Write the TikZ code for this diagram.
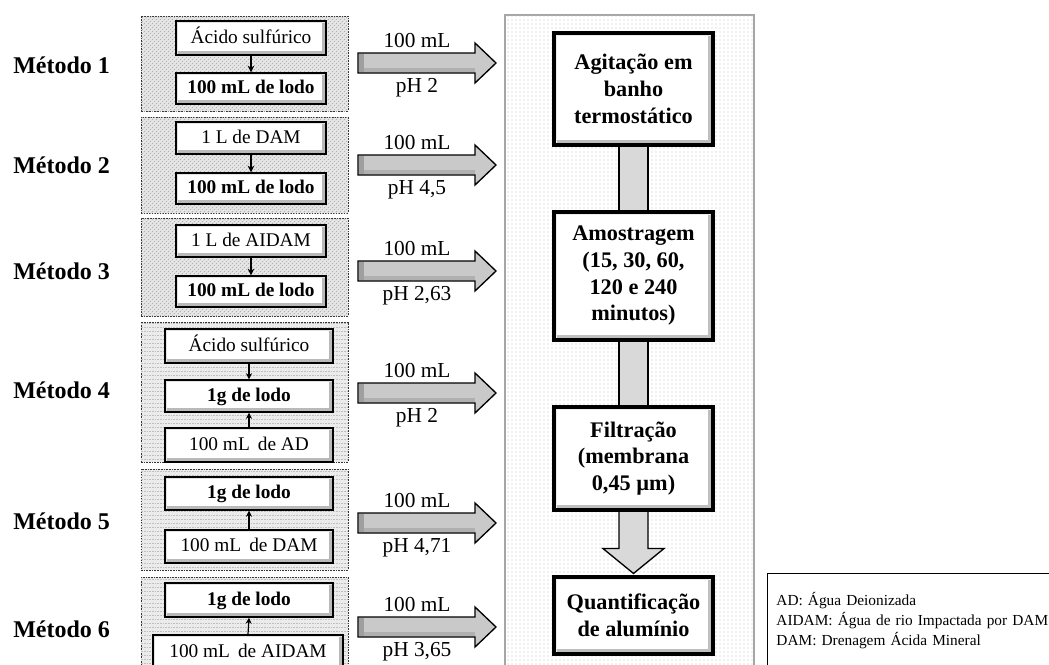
\documentclass[tikz,border=0pt]{standalone}
\usepackage{fontspec}
\setmainfont{Liberation Serif}
\usetikzlibrary{patterns,arrows.meta,calc}
\pgfdeclarelayer{bg}
\pgfdeclarelayer{mid}
\pgfsetlayers{bg,mid,main}
\begin{document}
\begin{tikzpicture}[x=0.75pt,y=-0.75pt,
  sz/.style args={#1x#2}{minimum width=#1*0.75pt, minimum height=#2*0.75pt},
  method/.style={draw=black!80, dash pattern=on 1.2pt off 0.8pt, line width=0.6pt, inner sep=0pt},
  diag/.style={fill=gray!18, postaction={pattern=north east lines, pattern color=gray!70}},
  horiz/.style={fill=gray!16, postaction={pattern=horizontal lines, pattern color=gray!50}},
  innerbox/.style={draw=black, line width=1.1pt, fill=white, inner sep=0pt,
    font=\fontsize{14.5}{17}\selectfont, text height=10.5pt, text depth=3pt,
    path picture={
      \fill[gray!55] (path picture bounding box.south west) rectangle ([yshift=2.8pt]path picture bounding box.south east);
      \fill[gray!55] ([xshift=-2.8pt]path picture bounding box.north east) rectangle (path picture bounding box.south east);
      \fill[gray!22] (path picture bounding box.north west) rectangle ([xshift=1.6pt]path picture bounding box.south west);
      \fill[gray!22] (path picture bounding box.north west) rectangle ([yshift=-1.6pt]path picture bounding box.north east);
    }},
  bold/.style={font=\fontsize{14.5}{17}\selectfont\bfseries},
  mlabel/.style={anchor=base west, inner sep=0pt, font=\fontsize{18}{21}\selectfont\bfseries},
  alabel/.style={anchor=base, inner sep=0pt, font=\fontsize{16}{19}\selectfont},
  sarrowA/.style={line width=1.3pt, -{Stealth[length=5pt,width=5pt]}},
  sarrowB/.style={line width=0.9pt, -{Stealth[length=4.5pt,width=4.5pt]}},
  procbox/.style={draw=gray!70, line width=1.2pt, fill=white, inner sep=0pt,
    postaction={pattern=dots, pattern color=gray!45}},
  mainbox/.style={draw=black, line width=2.3pt, fill=white, align=center, inner sep=0pt,
    font=\fontsize{16.7}{20}\selectfont\bfseries,
    path picture={
      \fill[gray!50] (path picture bounding box.south west) rectangle ([yshift=3.5pt]path picture bounding box.south east);
      \fill[gray!50] ([xshift=-3.5pt]path picture bounding box.north east) rectangle (path picture bounding box.south east);
      \fill[gray!15] (path picture bounding box.north west) rectangle ([xshift=2pt]path picture bounding box.south west);
      \fill[gray!15] (path picture bounding box.north west) rectangle ([yshift=-2pt]path picture bounding box.north east);
    }},
  conn/.style={draw=black, line width=1pt, fill=gray!30},
  harrow/.pic={
    \draw[line width=1pt, fill=gray!42, line join=miter]
      (0,-10) -- (117,-10) -- (117,-20) -- (138,0) -- (117,20) -- (117,10) -- (0,10) -- cycle;
    \fill[gray!75] (1,-9) rectangle (6,9);
    \fill[gray!62] (6,5) rectangle (117,9);
  },
  legend/.style={draw=black, line width=0.7pt, fill=white, align=left, text width=210pt,
    inner xsep=6.75pt, inner ysep=14pt, font=\fontsize{11.5}{15}\selectfont}
]
\useasboundingbox (0,0) rectangle (1049,664);
\clip (0,0) rectangle (1049,664);

% ---------- process container ----------
\begin{pgfonlayer}{bg}
\node[procbox, sz=249x700] (proc) at (629.5,365) {};
\end{pgfonlayer}

% ---------- method containers ----------
\node[method, diag,  sz=207x95]  (m1) at (244.5,63.5) {};
\node[method, diag,  sz=207x96]  (m2) at (244.5,165) {};
\node[method, diag,  sz=207x98]  (m3) at (244.5,267) {};
\node[method, horiz, sz=207x140] (m4) at (244.5,392) {};
\node[method, horiz, sz=207x101] (m5) at (244.5,519.5) {};
\node[method, horiz, sz=207x123] (m6) at (244.5,638.5) {};

% ---------- method labels ----------
\node[mlabel] (L1) at (13,73)  {Método 1};
\node[mlabel] (L2) at (13,173) {Método 2};
\node[mlabel] (L3) at (13,279) {Método 3};
\node[mlabel] (L4) at (13,398) {Método 4};
\node[mlabel] (L5) at (13,529) {Método 5};
\node[mlabel] (L6) at (13,637) {Método 6};

% ---------- inner boxes ----------
\node[innerbox, sz=150x34] (t1) at (251,38) {Ácido sulfúrico};
\node[innerbox, bold, sz=150x31] (b1) at (251,88.5) {100 mL de lodo};
\node[innerbox, sz=150x32] (t2) at (251,138) {1 L de DAM};
\node[innerbox, bold, sz=150x31] (b2) at (251,188.5) {100 mL de lodo};
\node[innerbox, sz=150x32] (t3) at (251,241) {1 L de AIDAM};
\node[innerbox, bold, sz=150x31] (b3) at (251,291.5) {100 mL de lodo};

\node[innerbox, sz=168x34] (a4) at (249,346) {Ácido sulfúrico};
\node[innerbox, bold, sz=168x32] (l4) at (249,396) {1g de lodo};
\node[innerbox, sz=168x34] (w4) at (249,445) {100 mL\, de AD};
\node[innerbox, bold, sz=168x33] (l5) at (249,493.5) {1g de lodo};
\node[innerbox, sz=168x33] (w5) at (249,546.5) {100 mL\, de DAM};
\node[innerbox, bold, sz=168x34] (l6) at (249,600) {1g de lodo};
\node[innerbox, sz=190x34] (w6) at (248,652) {100 mL\, de AIDAM};

\draw[sarrowA] (t1.south) -- (b1.north);
\draw[sarrowA] (t2.south) -- (b2.north);
\draw[sarrowA] (t3.south) -- (b3.north);
\draw[sarrowB] (a4.south) -- (l4.north);
\draw[sarrowB] (w4.north) -- (l4.south);
\draw[sarrowB] (w5.north) -- (l5.south);
\draw[sarrowB] (w6.north) -- (l6.south);

% ---------- big arrows and labels ----------
\pic at (358,63)  {harrow};
\pic at (358,165) {harrow};
\pic at (358,271) {harrow};
\pic at (358,393) {harrow};
\pic at (358,523) {harrow};
\pic at (358,627) {harrow};

\node[alabel] (q1) at (417,47)  {100 mL};
\node[alabel] (p1) at (417,92)  {pH 2};
\node[alabel] (q2) at (417,149) {100 mL};
\node[alabel] (p2) at (417,194) {pH 4,5};
\node[alabel] (q3) at (417,255) {100 mL};
\node[alabel] (p3) at (417,300) {pH 2,63};
\node[alabel] (q4) at (417,377) {100 mL};
\node[alabel] (p4) at (417,422) {pH 2};
\node[alabel] (q5) at (417,507) {100 mL};
\node[alabel] (p5) at (417,552) {pH 4,71};
\node[alabel] (q6) at (417,611) {100 mL};
\node[alabel] (p6) at (417,656) {pH 3,65};

% ---------- process boxes ----------
\node[mainbox, sz=159x112] (B1) at (633.5,89)    {Agitação em\\banho\\termostático};
\node[mainbox, sz=159x128] (B2) at (633.5,276)   {Amostragem\\(15, 30, 60,\\120 e 240\\minutos)};
\node[mainbox, sz=159x103] (B3) at (633.5,458.5) {Filtração\\(membrana\\0,45 µm)};
\node[mainbox, sz=159x77]  (B4) at (633.5,615.5) {Quantificação\\de alumínio};

\begin{pgfonlayer}{mid}
\draw[conn] ([xshift=-10.875pt]B1.south) rectangle ([xshift=10.875pt]B2.north);
\draw[conn] ([xshift=-10.875pt]B2.south) rectangle ([xshift=10.875pt]B3.north);
\coordinate (tip) at ($(B4.north)+(0,-2)$);
\draw[conn, line join=miter]
  ($(B3.south)+(-14.5,0)$) -- ($(B3.south)+(-14.5,37)$) -- ($(B3.south)+(-30.5,37)$)
  -- (tip) -- ($(B3.south)+(30.5,37)$) -- ($(B3.south)+(14.5,37)$) -- ($(B3.south)+(14.5,0)$);
\end{pgfonlayer}

% ---------- legend ----------
\node[legend, anchor=north west] (leg) at (767,573)
  {AD: Água Deionizada\\AIDAM: Água de rio Impactada por DAM\\DAM: Drenagem Ácida Mineral};
\end{tikzpicture}
\end{document}
